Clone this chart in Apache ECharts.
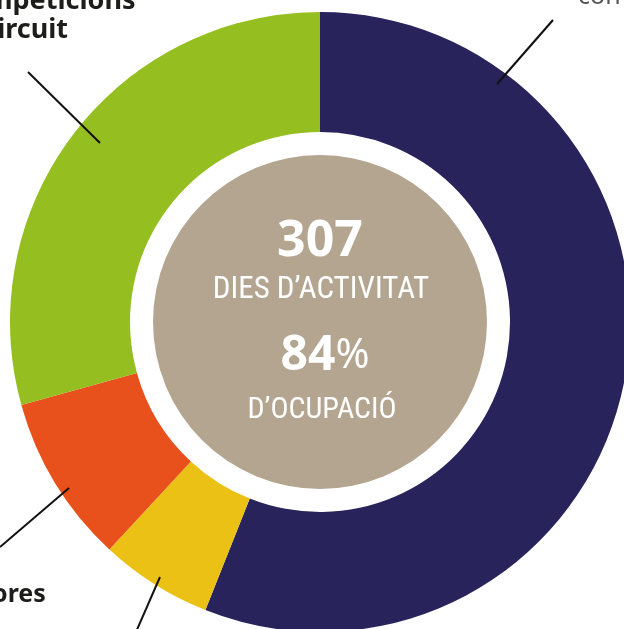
<!DOCTYPE html>
<html>
<head>
<meta charset="utf-8">
<script src="https://cdn.jsdelivr.net/npm/echarts@6/dist/echarts.min.js"></script>
<style>
  html, body { margin: 0; padding: 0; background: #fff; }
  #chart { width: 624px; height: 629px; }
</style>
</head>
<body>
<div id="chart"></div>
<script>
// dies per tipus d'activitat (llegit del gràfic, total 307)
const categories = ['con', 'activitat', 'ores', 'Competicions al circuit']
const values = [172, 18, 27, 90]
const colors = ['#29235c', '#ecc116', '#e8501c', '#95be20']

// textos del centre
const totalDays = '307'
const totalLabel = 'DIES D\u2019ACTIVITAT'
const occupancy = '84'
const occupancyLabel = 'D\u2019OCUPACI\u00d3'

const chart = echarts.init(document.getElementById('chart'))

const cx = 320
const cy = 322
const condensed = "'Liberation Sans Narrow', 'Roboto Condensed', Roboto, sans-serif"
const bold = "'Noto Sans', 'Open Sans', sans-serif"

const leader = (x1, y1, x2, y2) => ({
  type: 'line',
  z: 100,
  shape: { x1, y1, x2, y2 },
  style: { stroke: '#111', lineWidth: 2 },
})

const option = {
  animation: false,
  series: [
    {
      name: 'activitat',
      type: 'pie',
      center: [cx, cy],
      radius: [190, 310],
      startAngle: 90,
      clockwise: true,
      label: { show: false },
      labelLine: { show: false },
      emphasis: { disabled: true },
      data: categories.map((name, i) => ({
        name,
        value: values[i],
        itemStyle: { color: colors[i] },
      })),
    },
  ],
  graphic: [
    {
      type: 'circle',
      shape: { cx, cy, r: 167 },
      style: { fill: '#b4a591' },
    },
    {
      type: 'text',
      x: cx,
      y: 242,
      style: { text: totalDays, fill: '#fff', font: 'bold 50px ' + bold, align: 'center', verticalAlign: 'middle' },
    },
    {
      type: 'text',
      x: cx + 1,
      y: 290,
      style: { text: totalLabel, fill: '#fff', font: '31px ' + condensed, align: 'center', verticalAlign: 'middle' },
    },
    {
      type: 'text',
      x: cx + 5,
      y: 356,
      style: {
        text: '{a|' + occupancy + '}{b|%}',
        align: 'center',
        verticalAlign: 'middle',
        rich: {
          a: { fill: '#fff', font: 'bold 48px ' + bold },
          b: { fill: '#fff', font: '41px ' + bold },
        },
      },
    },
    {
      type: 'text',
      x: cx + 2,
      y: 410,
      style: { text: occupancyLabel, fill: '#fff', font: '30px ' + condensed, align: 'center', verticalAlign: 'middle' },
    },
    // etiquetes exteriors (retallades per la vora)
    {
      type: 'text',
      x: -48,
      y: -13,
      style: { text: 'Competicions\nal circuit', fill: '#1d1d1b', font: 'bold 27px ' + bold, lineHeight: 29 },
    },
    {
      type: 'text',
      x: 578,
      y: -16,
      style: { text: 'con', fill: '#575756', font: '25px ' + bold },
    },
    {
      type: 'text',
      x: -8,
      y: 582,
      style: { text: 'ores', fill: '#1d1d1b', font: 'bold 25px ' + bold },
    },
    leader(28, 72, 100, 143),
    leader(553, 20, 497, 84),
    leader(0, 547, 69, 488),
    leader(160, 577, 136, 632),
  ],
}

chart.setOption(option)
window.addEventListener('resize', () => chart.resize())
</script>
</body>
</html>
